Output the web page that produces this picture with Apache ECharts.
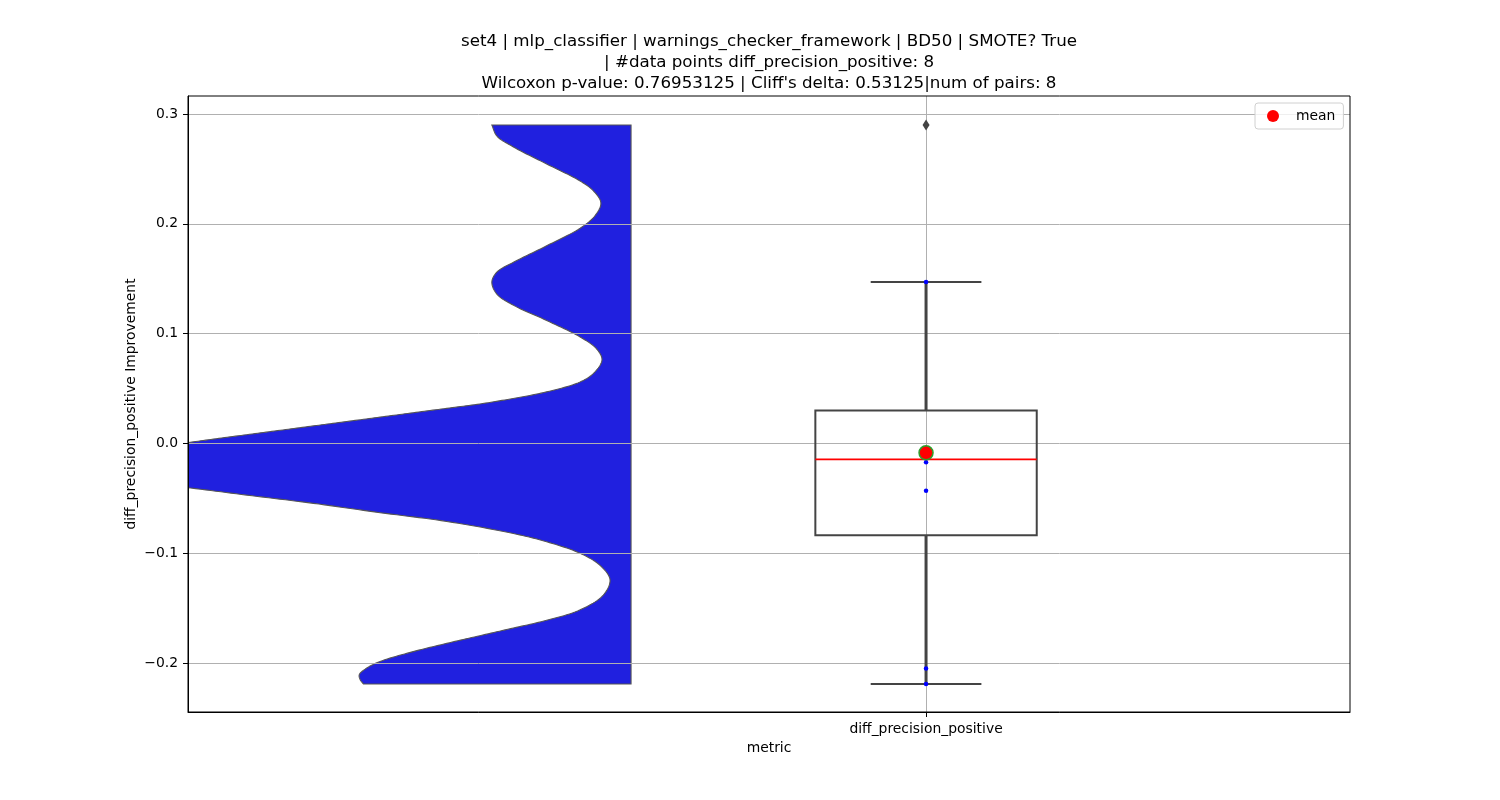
<!DOCTYPE html>
<html><head><meta charset="utf-8">
<script src="https://cdn.jsdelivr.net/npm/echarts@6/dist/echarts.min.js"></script>
<style>html,body{margin:0;padding:0;background:#fff}#c{width:1500px;height:800px}</style>
</head><body><div id="c"></div>
<script>
// ---------- data ----------
const titleLines = [
  'set4 | mlp_classifier | warnings_checker_framework | BD50 | SMOTE? True',
  '| #data points diff_precision_positive: 8',
  "Wilcoxon p-value: 0.76953125 | Cliff's delta: 0.53125|num of pairs: 8"
];
const categoryName = 'diff_precision_positive';
const xAxisName = 'metric';
const yAxisName = 'diff_precision_positive Improvement';
const values = [0.290, 0.147, -0.009, -0.012, -0.017, -0.043, -0.205, -0.219];
const yTicks = [-0.2, -0.1, 0.0, 0.1, 0.2, 0.3];
// half-violin outline: y value and density width (x-axis units, leftwards)
const violinY = [0.290, 0.280, 0.270, 0.2545, 0.239, 0.230, 0.219, 0.2075, 0.196, 0.180, 0.165, 0.156, 0.147, 0.136, 0.126, 0.112, 0.097, 0.086, 0.076, 0.064, 0.056, 0.047, 0.041, 0.036, 0.032, 0.028, 0.024, 0.020, 0.016, 0.012, 0.008, 0.004, 0.000, -0.006, -0.013, -0.020, -0.027, -0.034, -0.040, -0.047, -0.0545, -0.063, -0.071, -0.082, -0.0895, -0.100, -0.111, -0.124, -0.138, -0.1515, -0.161, -0.168, -0.175, -0.182, -0.1895, -0.1985, -0.2045, -0.2105, -0.215, -0.219];
const violinWidth = [0.503, 0.485, 0.425, 0.305, 0.184, 0.136, 0.109, 0.130, 0.184, 0.305, 0.425, 0.485, 0.503, 0.485, 0.426, 0.305, 0.184, 0.124, 0.105, 0.135, 0.184, 0.305, 0.426, 0.546, 0.666, 0.787, 0.907, 1.027, 1.148, 1.268, 1.389, 1.509, 1.62, 1.75, 1.88, 1.95, 1.95, 1.83, 1.61, 1.389, 1.148, 0.907, 0.666, 0.425, 0.305, 0.184, 0.112, 0.076, 0.100, 0.184, 0.305, 0.425, 0.546, 0.666, 0.787, 0.907, 0.955, 0.982, 0.979, 0.967];

// ---------- layout constants ----------
const X_MIN = -2.667, X_MAX = 1.532;
const Y_MIN = -0.2445, Y_MAX = 0.3164;
const VIOLIN_EDGE = -1.066;
const BOX_HALF = 0.4, CAP_HALF = 0.2;
const FONT = 'DejaVu Sans';
const FS = 13.9;
const GRAY = '#444444';

// ---------- stats ----------
const sorted = values.slice().sort((a, b) => a - b);
function quantile(s, q) {
  const pos = (s.length - 1) * q, lo = Math.floor(pos), hi = Math.ceil(pos);
  return s[lo] + (s[hi] - s[lo]) * (pos - lo);
}
const q1 = quantile(sorted, 0.25), med = quantile(sorted, 0.5), q3 = quantile(sorted, 0.75);
const iqr = q3 - q1;
const loW = Math.min(...sorted.filter(v => v >= q1 - 1.5 * iqr));
const hiW = Math.max(...sorted.filter(v => v <= q3 + 1.5 * iqr));
const outliers = sorted.filter(v => v < loW || v > hiW);
const mean = values.reduce((a, b) => a + b, 0) / values.length;

// centripetal Catmull-Rom smoothing of pixel outline (drawing only)
function catmull(pts, steps) {
  const out = [];
  const n = pts.length;
  const d = (a, b) => Math.max(Math.sqrt(Math.hypot(b[0] - a[0], b[1] - a[1])), 1e-4);
  for (let i = 0; i < n - 1; i++) {
    const p1 = pts[i], p2 = pts[i + 1];
    const p0 = i > 0 ? pts[i - 1] : [2 * p1[0] - p2[0], 2 * p1[1] - p2[1]];
    const p3 = i + 2 < n ? pts[i + 2] : [2 * p2[0] - p1[0], 2 * p2[1] - p1[1]];
    const t0 = 0, t1 = t0 + d(p0, p1), t2 = t1 + d(p1, p2), t3 = t2 + d(p2, p3);
    for (let k = 0; k < steps; k++) {
      const t = t1 + (t2 - t1) * k / steps;
      const lerp = (a, b, ta, tb) => [
        ((tb - t) * a[0] + (t - ta) * b[0]) / (tb - ta),
        ((tb - t) * a[1] + (t - ta) * b[1]) / (tb - ta)];
      const A1 = lerp(p0, p1, t0, t1), A2 = lerp(p1, p2, t1, t2), A3 = lerp(p2, p3, t2, t3);
      const B1 = lerp(A1, A2, t0, t2), B2 = lerp(A2, A3, t1, t3);
      out.push(lerp(B1, B2, t1, t2));
    }
  }
  out.push(pts[n - 1]);
  return out;
}

const chart = echarts.init(document.getElementById('c'), null, { renderer: 'canvas' });
chart.setOption({
  animation: false,
  backgroundColor: '#fff',
  textStyle: { fontFamily: FONT },
  title: {
    text: titleLines.join('\n'),
    left: 764, top: 26, textAlign: 'center',
    textStyle: { fontFamily: FONT, fontSize: 16.7, fontWeight: 'normal', color: '#000', lineHeight: 21 }
  },
  legend: {
    left: 1255, top: 103,
    data: [{ name: 'mean', icon: 'circle', itemStyle: { color: '#ff0000', borderWidth: 0 } }],
    itemWidth: 36, itemHeight: 12,
    padding: [6, 8, 6, 12],
    borderColor: '#d0d0d0', borderWidth: 1, borderRadius: 3,
    backgroundColor: 'rgba(255,255,255,0.8)',
    textStyle: { fontFamily: FONT, fontSize: FS, color: '#000' }
  },
  grid: { left: 188, right: 150, top: 96, bottom: 88, show: true, borderColor: '#000', borderWidth: 1, backgroundColor: 'transparent', z: 10 },
  xAxis: {
    type: 'value', min: X_MIN, max: X_MAX, z: 2,
    name: xAxisName, nameLocation: 'middle', nameGap: 29, nameMoveOverlap: false,
    nameTextStyle: { fontFamily: FONT, fontSize: FS, color: '#000' },
    axisLine: { show: true, onZero: false, lineStyle: { color: '#000', width: 1 } },
    axisTick: { show: true, customValues: [0], length: 5, lineStyle: { color: '#000', width: 1 } },
    axisLabel: { show: true, customValues: [0], formatter: () => categoryName, margin: 10, fontFamily: FONT, fontSize: FS, color: '#000' },
    splitLine: { show: false }
  },
  yAxis: {
    type: 'value', min: Y_MIN, max: Y_MAX, z: 2,
    name: yAxisName, nameLocation: 'middle', nameGap: 50, nameRotate: 90, nameMoveOverlap: false,
    nameTextStyle: { fontFamily: FONT, fontSize: FS, color: '#000' },
    axisLine: { show: true, onZero: false, lineStyle: { color: '#000', width: 1 } },
    axisTick: { show: true, customValues: yTicks, length: 5, lineStyle: { color: '#000', width: 1 } },
    axisLabel: { show: true, customValues: yTicks, margin: 10, fontFamily: FONT, fontSize: FS, color: '#000',
      formatter: v => (v < -1e-9 ? '\u2212' : '') + Math.abs(v).toFixed(1) },
    splitLine: { show: true, lineStyle: { color: '#b0b0b0', width: 1 } }
  },
  series: [
    {
      type: 'custom', name: 'violin', z: 1, clip: true, silent: true,
      data: [[0]],
      renderItem: (params, api) => {
        const curve = violinY.map((y, i) => api.coord([VIOLIN_EDGE - violinWidth[i], y]));
        const pts = catmull(curve, 12);
        pts.push(api.coord([VIOLIN_EDGE, violinY[violinY.length - 1]]));
        pts.push(api.coord([VIOLIN_EDGE, violinY[0]]));
        return { type: 'polygon', shape: { points: pts }, style: { fill: '#2020df', stroke: '#555555', lineWidth: 1.1 } };
      },
      markLine: {
        silent: true, symbol: 'none', label: { show: false }, z: 1,
        lineStyle: { color: '#b0b0b0', width: 1, type: 'solid' },
        data: [{ xAxis: 0 }]
      }
    },
    {
      type: 'custom', name: 'box', z: 3, silent: true,
      data: [[0]],
      renderItem: (params, api) => {
        const tl = api.coord([-BOX_HALF, q3]), br = api.coord([BOX_HALF, q1]);
        const mL = api.coord([-BOX_HALF, med]), mR = api.coord([BOX_HALF, med]);
        const c = (x, y) => api.coord([x, y]);
        const line = (a, b, w, col) => ({ type: 'line', shape: { x1: a[0], y1: a[1], x2: b[0], y2: b[1] }, style: { stroke: col, lineWidth: w } });
        return {
          type: 'group', children: [
            line(c(0, q3), c(0, hiW), 3, GRAY),
            line(c(0, q1), c(0, loW), 3, GRAY),
            line(c(-CAP_HALF, hiW), c(CAP_HALF, hiW), 2, GRAY),
            line(c(-CAP_HALF, loW), c(CAP_HALF, loW), 2, GRAY),
            { type: 'rect', shape: { x: tl[0], y: tl[1], width: br[0] - tl[0], height: br[1] - tl[1] }, style: { fill: 'none', stroke: GRAY, lineWidth: 2 } },
            line(mL, mR, 1.8, '#ff0000')
          ]
        };
      }
    },
    {
      type: 'scatter', name: 'points', z: 4, silent: true,
      symbolSize: 4.5, itemStyle: { color: '#0000ff', opacity: 1 },
      data: sorted.map(v => [0, v])
    },
    {
      type: 'scatter', name: 'outliers', z: 4, silent: true,
      symbol: 'diamond', symbolSize: [7, 11], itemStyle: { color: GRAY, opacity: 1 },
      data: outliers.map(v => [0, v])
    },
    {
      type: 'scatter', name: 'mean', z: 5, silent: true,
      symbolSize: 14, itemStyle: { color: '#ff0000', borderColor: '#2ca02c', borderWidth: 1.5, opacity: 1 },
      data: [[0, mean]]
    }
  ]
});
</script></body></html>
